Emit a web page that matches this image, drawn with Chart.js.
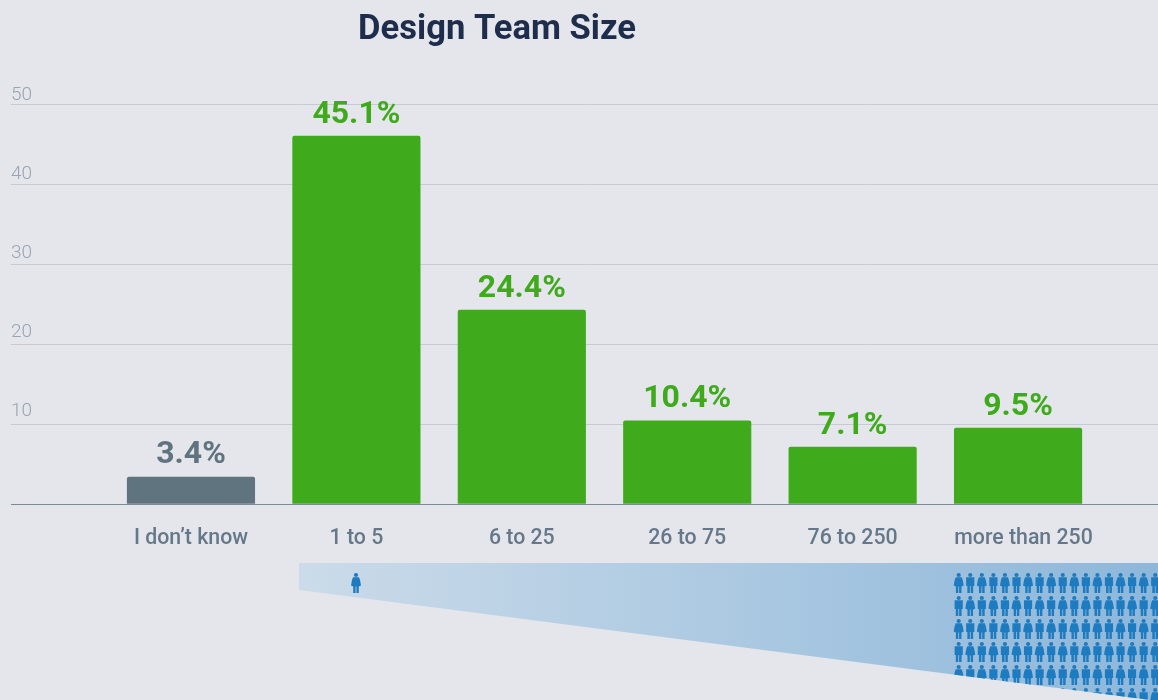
<!DOCTYPE html>
<html><head><meta charset="utf-8">
<style>html,body{margin:0;padding:0;background:#e5e6ec;overflow:hidden}canvas{display:block}</style>
<script src="https://cdn.jsdelivr.net/npm/chart.js@4/dist/chart.umd.min.js"></script>
</head><body><canvas id="c" width="1158" height="700"></canvas>
<script>
const categories = ["I don\u2019t know","1 to 5","6 to 25","26 to 75","76 to 250","more than 250"];
const barHeights = [3.38,46,24.25,10.4,7.1,9.5];
const valueLabels = ["3.4%","45.1%","24.4%","10.4%","7.1%","9.5%"];
const yTicks = [0,10,20,30,40,50];
const GREEN="#3fab1c", SLATE="#607480";
const barColors = [SLATE,GREEN,GREEN,GREEN,GREEN,GREEN];
const FONT="Roboto, sans-serif";

function person(ctx,cx,top,woman){
  ctx.beginPath();
  ctx.arc(cx,top+2,2.1,0,Math.PI*2);ctx.fill();
  ctx.beginPath();
  if(woman){
    ctx.moveTo(cx-3,top+4.3);ctx.lineTo(cx+3,top+4.3);
    ctx.lineTo(cx+4,top+7);ctx.lineTo(cx+5,top+12.6);ctx.lineTo(cx+2.8,top+13.4);
    ctx.lineTo(cx+2.8,top+20);ctx.lineTo(cx+0.4,top+20);ctx.lineTo(cx+0.4,top+13.4);
    ctx.lineTo(cx-0.4,top+13.4);ctx.lineTo(cx-0.4,top+20);ctx.lineTo(cx-2.8,top+20);
    ctx.lineTo(cx-2.8,top+13.4);ctx.lineTo(cx-5,top+12.6);ctx.lineTo(cx-4,top+7);
  }else{
    ctx.moveTo(cx-4.1,top+4.3);ctx.lineTo(cx+4.1,top+4.3);ctx.lineTo(cx+4.1,top+13);
    ctx.lineTo(cx+2.9,top+13);ctx.lineTo(cx+2.9,top+20);ctx.lineTo(cx+0.4,top+20);
    ctx.lineTo(cx+0.4,top+13);ctx.lineTo(cx-0.4,top+13);ctx.lineTo(cx-0.4,top+20);
    ctx.lineTo(cx-2.9,top+20);ctx.lineTo(cx-2.9,top+13);ctx.lineTo(cx-4.1,top+13);
  }
  ctx.closePath();ctx.fill();
}

const decor = {
  id:"decor",
  beforeDraw(chart){
    // the reference's axis numbers drift slightly against the gridlines
    chart.scales.y.getLabelItems().forEach(it=>{
      if(it.label!=="" && !it.shifted){
        it.options.translation[1]-=(50-Number(it.label))*0.1;
        it.shifted=true;
      }
    });
    // the last category label sits a little right of its bar in the reference
    const items=chart.scales.x.getLabelItems(), last=items[items.length-1];
    if(last && !last.shifted){last.options.translation[0]+=5.5;last.shifted=true;}
  },
  afterDraw(chart){
    const ctx=chart.ctx, xs=chart.scales.x, ys=chart.scales.y;
    ctx.save();
    ctx.fillStyle="#1e2d4c";ctx.font="700 34.6px "+FONT;ctx.textAlign="center";ctx.textBaseline="middle";
    ctx.fillText("Design Team Size",497,30);
    ctx.font="700 32px "+FONT;ctx.textBaseline="alphabetic";
    barHeights.forEach((v,i)=>{
      ctx.fillStyle=barColors[i];
      ctx.fillText(valueLabels[i],xs.getPixelForValue(i),ys.getPixelForValue(v)-13.5);
    });
    ctx.beginPath();ctx.moveTo(299,563);ctx.lineTo(1158,563);ctx.lineTo(1158,701);ctx.lineTo(299,590);ctx.closePath();
    const g=ctx.createLinearGradient(299,0,1158,0);g.addColorStop(0,"#cbdbe9");g.addColorStop(1,"#8db7da");
    ctx.fillStyle=g;ctx.fill();
    ctx.clip();
    ctx.fillStyle="#1f7bc0";
    person(ctx,356,573,true);
    for(let r=0;r<6;r++)for(let c=0;c<18;c++){
      person(ctx,958.7+c*11.56,573+r*23,(c+r)%2===0);
    }
    ctx.restore();
  }
};

new Chart(document.getElementById("c"),{
  type:"bar",
  data:{datasets:[{
    data:barHeights.map((v,i)=>({x:i,y:v})),
    backgroundColor:barColors,
    barThickness:127.5,
    borderRadius:{topLeft:2,topRight:2}
  }]},
  options:{
    responsive:false,animation:false,
    layout:{padding:{left:11,right:0,top:104,bottom:0}},
    plugins:{legend:{display:false},tooltip:{enabled:false}},
    scales:{
      x:{type:"linear",min:-1.088,max:5.846,offset:false,
        afterBuildTicks(a){a.ticks=categories.map((_,i)=>({value:i}));},
        afterFit(a){a.height=196;},
        grid:{display:false},
        border:{display:true,color:"#7b8a96",width:1},
        ticks:{autoSkip:false,maxRotation:0,padding:14,color:"#65788a",
          font:{family:FONT,size:21.3,weight:"500"},
          callback:v=>categories[v]}},
      y:{min:0,max:50,
        afterBuildTicks(a){a.ticks=yTicks.map(v=>({value:v}));},
        afterFit(a){a.width=0;},
        grid:{color:"#c6cbd3",lineWidth:1,drawTicks:false},
        border:{display:false},
        ticks:{mirror:true,padding:0,labelOffset:-9,color:"#98a5ae",
          font:{family:FONT,size:19,weight:"300"},
          callback:v=>v===0?"":String(v)}}
    }
  },
  plugins:[decor]
});
</script></body></html>
